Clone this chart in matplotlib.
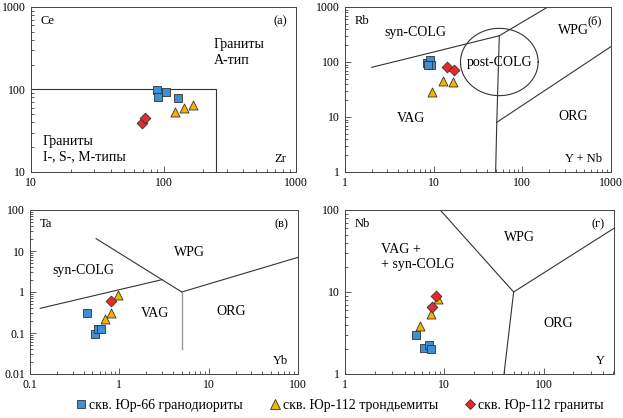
import numpy as np
import matplotlib
matplotlib.use("Agg")
import matplotlib.pyplot as plt
from matplotlib.lines import Line2D

plt.rcParams["font.family"] = ["Liberation Serif", "DejaVu Serif"]
plt.rcParams["font.size"] = 8.5

# ---- data ----
# (а) Zr vs Ce
a_sq_x = [89, 91, 104, 128]
a_sq_y = [98, 81, 94, 79]
a_tri_x = [123, 143, 167]
a_tri_y = [54, 59, 64]
a_dia_x = [68.5, 72.5]
a_dia_y = [39.5, 45.5]
# (б) Y+Nb vs Rb
b_sq_x = [8.5, 9.2, 9.3, 8.7]
b_sq_y = [97, 108, 87, 90]
b_tri_x = [9.7, 12.6, 16.7]
b_tri_y = [29, 44.5, 44]
b_dia_x = [14.0, 16.9]
b_dia_y = [80, 70.5]
# (в) Yb vs Ta
c_sq_x = [0.43, 0.54, 0.57, 0.63]
c_sq_y = [0.31, 0.097, 0.125, 0.125]
c_tri_x = [0.96, 0.80, 0.70]
c_tri_y = [0.86, 0.30, 0.225]
c_dia_x = [0.80]
c_dia_y = [0.60]
# (г) Y vs Nb
d_sq_x = [5.2, 6.3, 6.95, 7.3]
d_sq_y = [3.0, 2.08, 2.27, 2.02]
d_tri_x = [5.7, 7.4, 8.55]
d_tri_y = [3.9, 5.4, 8.3]
d_dia_x = [7.6, 8.25]
d_dia_y = [6.55, 8.85]

# discrimination boundaries (Pearce et al., 1984)
a_lines = [([10, 250, 250], [100, 100, 10])]
b_lines = [([2, 55], [80, 300]), ([55, 400], [300, 2000]),
           ([55, 51.5, 50], [300, 8, 1]), ([51.5, 2000], [8, 400])]
b_circle_center = (55, 100)
b_circle_radius = (0.438, 0.612)   # in decades (x, y)
c_lines = [([0.13, 3], [0.4, 2]), ([0.55, 5], [20, 1]), ([5, 100], [1, 7])]
c_gray_line = ([5, 5], [1, 0.04])
d_lines = [([9.1, 50], [100, 10]), ([50, 1000], [10, 100]), ([50, 40], [10, 1])]

legend_labels = ["скв. Юр-66 гранодиориты", "скв. Юр-112 трондьемиты", "скв. Юр-112 граниты"]

BLUE, YEL, RED = "#3f8fd2", "#f4b400", "#e52b2b"
EDGE = "#333333"
LC = "#333333"
FS = 10

fig = plt.figure(figsize=(6.23, 4.18), dpi=100)
W, H = 623, 418


def box(l, t, r, b):
    return [l / W, 1 - b / H, (r - l) / W, (b - t) / H]


ax_a = fig.add_axes(box(31, 7, 296, 172))
ax_b = fig.add_axes(box(345, 7, 611, 172))
ax_c = fig.add_axes(box(30, 210, 298, 374))
ax_d = fig.add_axes(box(345, 210, 614, 374))


def style(ax, xlim, ylim):
    ax.set_xscale("log"); ax.set_yscale("log")
    ax.set_xlim(*xlim); ax.set_ylim(*ylim)
    ax.tick_params(which="both", direction="in", top=False, right=False, labelsize=8.5,
                   color="#444444", width=0.6)
    ax.tick_params(which="major", length=4)
    ax.tick_params(which="minor", length=2)
    for s in ax.spines.values():
        s.set_linewidth(0.7); s.set_color("#444444")
    ax.xaxis.set_major_formatter(matplotlib.ticker.FuncFormatter(lambda v, p: f"{v:g}"))
    ax.yaxis.set_major_formatter(matplotlib.ticker.FuncFormatter(lambda v, p: f"{v:g}"))
    ax.xaxis.set_minor_formatter(matplotlib.ticker.NullFormatter())
    ax.yaxis.set_minor_formatter(matplotlib.ticker.NullFormatter())


def points(ax, sx, sy, tx, ty, dx, dy):
    ax.scatter(sx, sy, marker="s", s=38, c=BLUE, edgecolors=EDGE, linewidths=0.6, zorder=3)
    ax.scatter(tx, ty, marker="^", s=42, c=YEL, edgecolors=EDGE, linewidths=0.6, zorder=3)
    ax.scatter(dx, dy, marker="D", s=30, c=RED, edgecolors=EDGE, linewidths=0.6, zorder=4)


def corner(ax, tl, tr, br):
    ax.text(0.035, 0.95, tl, transform=ax.transAxes, ha="left", va="top", fontsize=9)
    ax.text(0.965, 0.95, tr, transform=ax.transAxes, ha="right", va="top", fontsize=9)
    ax.text(0.965, 0.04, br, transform=ax.transAxes, ha="right", va="bottom", fontsize=9)


# (а)
style(ax_a, (10, 1000), (10, 1000))
for xs, ys in a_lines:
    ax_a.plot(xs, ys, color=LC, lw=0.8)
points(ax_a, a_sq_x, a_sq_y, a_tri_x, a_tri_y, a_dia_x, a_dia_y)
corner(ax_a, "Ce", "(а)", "Zr")
ax_a.text(240, 420, "Граниты\nА-тип", ha="left", va="top", fontsize=FS, linespacing=1.25)
ax_a.text(12.3, 28, "Граниты\nI-, S-, M-типы", ha="left", va="top", fontsize=FS, linespacing=1.25)

# (б)
style(ax_b, (1, 1000), (1, 1000))
for xs, ys in b_lines:
    ax_b.plot(xs, ys, color=LC, lw=0.8)
th = np.linspace(0, 2 * np.pi, 200)
ax_b.plot(10 ** (np.log10(b_circle_center[0]) + b_circle_radius[0] * np.cos(th)),
          10 ** (np.log10(b_circle_center[1]) + b_circle_radius[1] * np.sin(th)), color=LC, lw=0.8)
points(ax_b, b_sq_x, b_sq_y, b_tri_x, b_tri_y, b_dia_x, b_dia_y)
corner(ax_b, "Rb", "(б)", "Y + Nb")
ax_b.text(6.3, 340, "syn-COLG", ha="center", va="center", fontsize=FS)
ax_b.text(380, 370, "WPG", ha="center", va="center", fontsize=FS)
ax_b.text(55, 97, "post-COLG", ha="center", va="center", fontsize=FS)
ax_b.text(5.6, 9.2, "VAG", ha="center", va="center", fontsize=FS)
ax_b.text(375, 10, "ORG", ha="center", va="center", fontsize=FS)

# (в)
style(ax_c, (0.1, 100), (0.01, 100))
for xs, ys in c_lines:
    ax_c.plot(xs, ys, color=LC, lw=0.8)
ax_c.plot(*c_gray_line, color="#999999", lw=1.0)
points(ax_c, c_sq_x, c_sq_y, c_tri_x, c_tri_y, c_dia_x, c_dia_y)
corner(ax_c, "Ta", "(в)", "Yb")
ax_c.text(0.40, 3.4, "syn-COLG", ha="center", va="center", fontsize=FS)
ax_c.text(6.1, 9.0, "WPG", ha="center", va="center", fontsize=FS)
ax_c.text(2.5, 0.3, "VAG", ha="center", va="center", fontsize=FS)
ax_c.text(18, 0.33, "ORG", ha="center", va="center", fontsize=FS)

# (г)
style(ax_d, (1, 513), (1, 100))
for xs, ys in d_lines:
    ax_d.plot(xs, ys, color=LC, lw=0.8)
points(ax_d, d_sq_x, d_sq_y, d_tri_x, d_tri_y, d_dia_x, d_dia_y)
corner(ax_d, "Nb", "(г)", "Y")
ax_d.text(2.3, 40, "VAG +\n+ syn-COLG", ha="left", va="top", fontsize=FS, linespacing=1.25)
ax_d.text(57, 46, "WPG", ha="center", va="center", fontsize=FS)
ax_d.text(140, 4.1, "ORG", ha="center", va="center", fontsize=FS)

handles = [
    Line2D([], [], ls="none", marker="s", ms=6, mfc=BLUE, mec=EDGE, mew=0.6),
    Line2D([], [], ls="none", marker="^", ms=6.5, mfc=YEL, mec=EDGE, mew=0.6),
    Line2D([], [], ls="none", marker="D", ms=5.5, mfc=RED, mec=EDGE, mew=0.6),
]
fig.legend(handles, legend_labels, loc="lower center", bbox_to_anchor=(0.545, -0.015), ncol=3,
           frameon=False, fontsize=FS, handletextpad=0.2, columnspacing=1.9, handlelength=0.8)

fig.savefig("out.png", dpi=100)
